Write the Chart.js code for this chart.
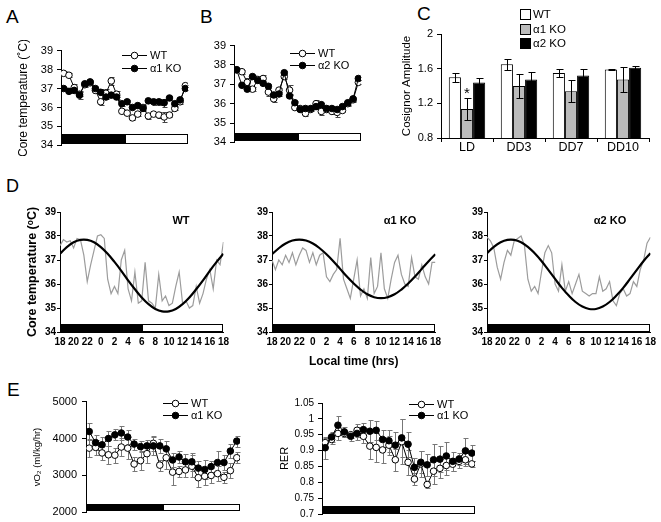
<!DOCTYPE html>
<html>
<head>
<meta charset="utf-8">
<script src="https://cdn.jsdelivr.net/npm/chart.js@4.4.1/dist/chart.umd.min.js"></script>
<style>
  body { margin: 0; background: #fff; width: 661px; height: 522px; position: relative; overflow: hidden;
         font-family: Arial, "Liberation Sans", sans-serif; }
  canvas { position: absolute; }
  .lbl { position: absolute; font-size: 19px; line-height: 19px; color: #000; }
</style>
</head>
<body>
<div class="lbl" style="left:6px;top:7px">A</div>
<div class="lbl" style="left:200px;top:7px">B</div>
<div class="lbl" style="left:417px;top:4px">C</div>
<div class="lbl" style="left:6px;top:177px;font-size:18px">D</div>
<div class="lbl" style="left:7px;top:380px">E</div>

<canvas id="chartA" width="179" height="116" style="left:16px;top:40px"></canvas>
<canvas id="chartB" width="163" height="118" style="left:205px;top:35px"></canvas>
<canvas id="chartC" width="256" height="158" style="left:400px;top:2px"></canvas>
<canvas id="chartD1" width="208" height="166" style="left:25px;top:203px"></canvas>
<canvas id="chartD2" width="208" height="166" style="left:237px;top:203px"></canvas>
<canvas id="chartD3" width="208" height="166" style="left:452px;top:203px"></canvas>
<canvas id="chartE1" width="215" height="134" style="left:32px;top:390px"></canvas>
<canvas id="chartE2" width="204" height="131" style="left:278px;top:393px"></canvas>

<script>
// ---- data ----
const hours = [0, 1, 2, 3, 4, 5, 6, 7, 8, 9, 10, 11, 12, 13, 14, 15, 16, 17, 18, 19, 20, 21, 22, 23];
const darkSpan = [-0.5, 11.5];
const lightSpan = [11.5, 23.5];

// A: core temp, WT vs a1 KO
const tempA_WT = [37.8, 37.7, 37.05, 36.7, 37.2, 37.3, 36.9, 36.3, 36.75, 37.4, 36.7, 35.8, 35.7, 35.45, 35.65, 36.0, 35.55, 35.65, 35.6, 35.5, 35.6, 35.95, 36.3, 37.15];
const tempA_WT_err = [0.1, 0.1, 0.2, 0.1, 0.1, 0.1, 0.15, 0.15, 0.2, 0.2, 0.15, 0.1, 0.1, 0.1, 0.1, 0.15, 0.15, 0.1, 0.15, 0.25, 0.1, 0.1, 0.1, 0.05];
const tempA_KO = [37.0, 36.85, 36.9, 36.65, 37.25, 37.35, 37.0, 36.8, 36.55, 36.65, 36.55, 36.2, 36.3, 36.0, 36.1, 35.95, 36.35, 36.3, 36.3, 36.25, 36.5, 36.2, 36.4, 37.0];
const tempA_KO_err = [0.1, 0.1, 0.1, 0.2, 0.1, 0.1, 0.1, 0.15, 0.1, 0.1, 0.1, 0.1, 0.1, 0.1, 0.1, 0.15, 0.1, 0.15, 0.15, 0.2, 0.1, 0.1, 0.1, 0.1];

// B: core temp, WT vs a2 KO
const tempB_WT = [37.75, 37.65, 37.1, 36.75, 37.25, 37.3, 36.6, 36.25, 36.7, 37.4, 36.7, 35.8, 35.75, 35.5, 35.7, 36.0, 35.6, 35.7, 35.6, 35.55, 35.65, 36.0, 36.2, 37.1];
const tempB_WT_err = [0.1, 0.1, 0.25, 0.1, 0.1, 0.2, 0.2, 0.15, 0.1, 0.15, 0.25, 0.1, 0.1, 0.15, 0.1, 0.2, 0.2, 0.1, 0.15, 0.25, 0.1, 0.1, 0.1, 0.1];
const tempB_KO = [37.75, 36.95, 36.75, 37.4, 37.2, 37.05, 36.9, 36.45, 36.5, 37.6, 36.4, 36.05, 35.7, 35.75, 35.75, 35.85, 35.95, 35.75, 35.75, 35.7, 35.85, 36.05, 36.25, 37.3];
const tempB_KO_err = [0.1, 0.1, 0.1, 0.1, 0.1, 0.1, 0.1, 0.15, 0.1, 0.1, 0.1, 0.1, 0.1, 0.1, 0.1, 0.1, 0.1, 0.1, 0.1, 0.1, 0.1, 0.1, 0.1, 0.1];

// C: cosinor amplitude
const cCats = ['LD', 'DD3', 'DD7', 'DD10'];
const ampWT = [1.50, 1.65, 1.55, 1.59];
const ampWT_err = [0.055, 0.06, 0.045, 0.005];
const ampA1 = [1.135, 1.40, 1.34, 1.475];
const ampA1_err = [0.13, 0.135, 0.13, 0.145];
const ampA2 = [1.44, 1.475, 1.52, 1.61];
const ampA2_err = [0.05, 0.085, 0.08, 0.02];

// D: raw traces (every 0.5 h from 18:00) and cosinor fits (hourly)
const dTimes = [0, 0.5, 1, 1.5, 2, 2.5, 3, 3.5, 4, 4.5, 5, 5.5, 6, 6.5, 7, 7.5, 8, 8.5, 9, 9.5, 10, 10.5, 11, 11.5, 12,
  12.5, 13, 13.5, 14, 14.5, 15, 15.5, 16, 16.5, 17, 17.5, 18, 18.5, 19, 19.5, 20, 20.5, 21, 21.5, 22, 22.5, 23, 23.5, 24];
const rawWT = [37.6, 37.85, 37.75, 37.8, 37.5, 37.9, 37.85, 37.2, 36.1, 36.8, 37.4, 38.0, 38.05, 37.9, 36.2, 35.6, 35.9, 35.6, 37.0, 37.4,
  35.8, 35.3, 36.5, 35.2, 35.3, 36.9, 35.3, 35.2, 35.0, 36.4, 35.3, 35.5, 35.1, 35.2, 35.9, 36.5, 35.2, 35.3, 35.0, 35.1,
  35.9, 35.2, 35.6, 36.2, 36.6, 35.8, 37.0, 36.8, 37.75];
const rawA1 = [37.0, 36.6, 37.0, 36.8, 37.2, 36.9, 37.3, 36.8, 37.2, 37.5, 37.4, 36.9, 37.3, 36.8, 37.2, 37.3, 36.3, 36.1, 36.4, 36.6,
  37.9, 36.2, 35.8, 35.4, 36.2, 37.0, 35.5, 35.8, 35.4, 37.1, 35.6, 35.9, 37.3, 35.8, 35.4, 36.2, 36.9, 37.2, 36.4, 36.0,
  35.9, 37.1, 36.3, 36.2, 36.8, 36.3, 36.0, 36.9, 36.9];
const rawA2 = [37.95, 37.8, 37.5, 36.7, 36.2, 36.9, 37.4, 37.2, 37.8, 37.9, 38.0, 37.6, 36.2, 35.7, 35.9, 35.6, 36.5, 37.3, 37.6, 37.3,
  36.0, 35.7, 36.8, 35.7, 36.1, 35.6, 36.0, 36.4, 35.7, 35.6, 35.5, 35.6, 35.6, 36.3, 35.7, 35.8, 36.1, 35.3, 35.1, 35.6,
  35.8, 35.5, 35.6, 36.1, 35.9, 36.6, 37.0, 37.7, 37.95];
const fitTimes = [0, 1, 2, 3, 4, 5, 6, 7, 8, 9, 10, 11, 12, 13, 14, 15, 16, 17, 18, 19, 20, 21, 22, 23, 24];
const fitWT = [37.26, 37.54, 37.74, 37.84, 37.84, 37.74, 37.54, 37.26, 36.92, 36.55, 36.15, 35.78, 35.44, 35.16, 34.96, 34.86, 34.86, 34.96, 35.16, 35.44, 35.78, 36.15, 36.55, 36.92, 37.26];
const fitA1 = [37.24, 37.49, 37.69, 37.81, 37.85, 37.81, 37.69, 37.49, 37.24, 36.95, 36.63, 36.31, 36.02, 35.77, 35.57, 35.45, 35.41, 35.45, 35.57, 35.77, 36.02, 36.31, 36.63, 36.95, 37.24];
const fitA2 = [37.28, 37.55, 37.74, 37.84, 37.84, 37.74, 37.55, 37.28, 36.96, 36.59, 36.21, 35.84, 35.52, 35.25, 35.06, 34.96, 34.96, 35.06, 35.25, 35.52, 35.84, 36.21, 36.59, 36.96, 37.28];

// E: VO2 and RER
const vo2WT = [3740, 3760, 3610, 3560, 3550, 3770, 3740, 3310, 3400, 3590, 3870, 3280, 3480, 3090, 3110, 3150, 3250, 2940, 2980, 3000, 3050, 2950, 3130, 3480];
const vo2WT_err = [250, 200, 200, 250, 200, 250, 300, 200, 250, 250, 200, 150, 300, 350, 150, 200, 300, 250, 250, 200, 200, 150, 200, 150];
const vo2KO = [4190, 3890, 3830, 4000, 4100, 4150, 4040, 3850, 3780, 3800, 3800, 3800, 3720, 3420, 3500, 3370, 3370, 3200, 3160, 3240, 3350, 3350, 3660, 3930];
const vo2KO_err = [230, 200, 200, 200, 150, 200, 200, 150, 150, 150, 250, 200, 200, 200, 150, 200, 250, 200, 250, 150, 300, 200, 200, 150];
const rerWT = [0.925, 0.935, 0.954, 0.954, 0.95, 0.964, 0.945, 0.914, 0.91, 0.902, 0.917, 0.871, 0.928, 0.863, 0.81, 0.858, 0.793, 0.835, 0.844, 0.853, 0.857, 0.866, 0.871, 0.858];
const rerWT_err = [0.015, 0.015, 0.02, 0.01, 0.01, 0.02, 0.02, 0.04, 0.045, 0.04, 0.03, 0.035, 0.07, 0.04, 0.02, 0.04, 0.01, 0.04, 0.03, 0.03, 0.02, 0.02, 0.02, 0.01];
const rerKO = [0.909, 0.943, 0.98, 0.959, 0.945, 0.954, 0.966, 0.961, 0.964, 0.935, 0.931, 0.917, 0.94, 0.92, 0.847, 0.863, 0.855, 0.871, 0.873, 0.883, 0.866, 0.873, 0.899, 0.892];
const rerKO_err = [0.035, 0.015, 0.03, 0.015, 0.015, 0.02, 0.02, 0.035, 0.03, 0.03, 0.035, 0.04, 0.06, 0.04, 0.03, 0.035, 0.035, 0.05, 0.04, 0.045, 0.03, 0.02, 0.04, 0.025];

// ---- setup ----
const FONT = 'Arial, "Liberation Sans", sans-serif';
Chart.defaults.font.family = FONT;
Chart.defaults.color = '#000';
Chart.defaults.animation = false;
Chart.defaults.responsive = false;
Chart.defaults.devicePixelRatio = 1;
Chart.defaults.plugins.legend.display = false;
Chart.defaults.plugins.tooltip.enabled = false;

const pts = (xs, ys) => xs.map((x, i) => ({ x: x, y: ys[i] }));

// light/dark bar under the traces
const ldBar = {
  id: 'ldBar',
  beforeDatasetsDraw(chart, args, o) {
    if (!o.dark) return;
    const ctx = chart.ctx, xs = chart.scales.x, ys = chart.scales.y;
    const y0 = Math.round(ys.getPixelForValue(o.y[0])) - 0.5, y1 = Math.round(ys.getPixelForValue(o.y[1])) + 0.5;
    ctx.save();
    ctx.strokeStyle = '#000'; ctx.lineWidth = 1;
    [[o.dark, '#000'], [o.light, '#fff']].forEach(([sp, col]) => {
      const x0 = Math.round(xs.getPixelForValue(sp[0])) + 0.5, x1 = Math.round(xs.getPixelForValue(sp[1])) - 0.5;
      ctx.fillStyle = col;
      ctx.fillRect(x0, y1, x1 - x0, y0 - y1);
      ctx.strokeRect(x0, y1, x1 - x0, y0 - y1);
    });
    ctx.restore();
  }
};

// error bars (before datasets for lines, after for bars)
function drawErr(chart, o) {
  const ctx = chart.ctx, ys = chart.scales.y;
  ctx.save();
  ctx.strokeStyle = o.color || '#000'; ctx.lineWidth = 1;
  o.sets.forEach(s => {
    const meta = chart.getDatasetMeta(s.ds);
    meta.data.forEach((el, i) => {
      const raw = chart.data.datasets[s.ds].data[i];
      const v = typeof raw === 'object' ? raw.y : raw, e = s.err[i];
      const x = Math.round(el.x) + 0.5;
      const t = Math.round(ys.getPixelForValue(v + e)) + 0.5, b = Math.round(ys.getPixelForValue(v - e)) + 0.5;
      const c = o.cap || 2;
      ctx.beginPath();
      ctx.moveTo(x, t); ctx.lineTo(x, b);
      ctx.moveTo(x - c, t); ctx.lineTo(x + c + 1, t);
      ctx.moveTo(x - c, b); ctx.lineTo(x + c + 1, b);
      ctx.stroke();
    });
  });
  if (o.star) {
    const el = chart.getDatasetMeta(o.star.ds).data[o.star.i];
    const d = chart.data.datasets[o.star.ds].data[o.star.i];
    const top = ys.getPixelForValue(d + o.sets[o.star.ds].err[o.star.i]);
    ctx.fillStyle = '#000'; ctx.font = '15px ' + FONT; ctx.textAlign = 'center'; ctx.textBaseline = 'alphabetic';
    ctx.fillText('*', el.x, top);
  }
  ctx.restore();
}
const errorBars = {
  id: 'errorBars',
  beforeDatasetsDraw(chart, args, o) { if (o.sets && !o.after) drawErr(chart, o); },
  afterDatasetsDraw(chart, args, o) { if (o.sets && o.after) drawErr(chart, o); }
};

// legend with line+circle or box markers, and free text
const keyBox = {
  id: 'keyBox',
  afterDraw(chart, args, o) {
    const ctx = chart.ctx, a = chart.chartArea;
    ctx.save();
    ctx.strokeStyle = '#000'; ctx.lineWidth = 1;
    if (o.items) {
      ctx.font = (o.size || 11) + 'px ' + FONT;
      ctx.textBaseline = 'middle'; ctx.textAlign = 'left';
      o.items.forEach((it, i) => {
        const x = Math.round(a.left + o.x), y = Math.round(a.top + o.y + i * o.gap) + 0.5;
        if (o.box) {
          ctx.fillStyle = it.fill; ctx.fillRect(x + 0.5, y - 5, 10, 10); ctx.strokeRect(x + 0.5, y - 5, 10, 10);
          ctx.fillStyle = '#000'; ctx.fillText(it.text, x + 13, y);
        } else {
          ctx.beginPath(); ctx.moveTo(x, y); ctx.lineTo(x + 25, y); ctx.stroke();
          ctx.beginPath(); ctx.arc(x + 12.5, y, 3.3, 0, Math.PI * 2);
          ctx.fillStyle = it.fill; ctx.fill(); ctx.stroke();
          ctx.fillStyle = '#000'; ctx.fillText(it.text, x + 28, y);
        }
      });
    }
    if (o.title) {
      ctx.font = 'bold 11px ' + FONT; ctx.fillStyle = '#000';
      ctx.textAlign = 'center'; ctx.textBaseline = 'middle';
      ctx.fillText(o.title.text, a.left + o.title.x, a.top + o.title.y);
    }
    ctx.restore();
  }
};
Chart.register(ldBar, errorBars, keyBox);

function yScale(o) {
  const w = o.bold ? 'bold' : 'normal';
  return {
    min: o.min, max: o.max,
    afterFit: s => { s.width = o.width; },
    border: { color: '#000', width: 1 },
    grid: { drawOnChartArea: false, drawTicks: true, tickLength: o.tick || 4, color: '#000' },
    ticks: { stepSize: o.step, padding: o.pad == null ? 4 : o.pad, color: '#000', autoSkip: false,
             font: { size: o.size || 11, weight: w }, callback: v => String(+v.toFixed(2)) },
    title: o.title ? { display: true, text: o.title, color: '#000', padding: 0, font: { size: o.tsize, weight: w } }
                   : { display: false }
  };
}
const hiddenX = { type: 'linear', min: -0.5, max: 23.5, display: false };
function lineSet(ys, fill) {
  return { data: pts(hours, ys), borderColor: '#000', borderWidth: 1, pointRadius: 3.3, pointBorderWidth: 1,
           pointBackgroundColor: fill, pointBorderColor: '#000', tension: 0 };
}

// ---- A ----
new Chart(document.getElementById('chartA'), {
  type: 'line',
  data: { datasets: [lineSet(tempA_KO, '#000'), lineSet(tempA_WT, '#fff')] },
  options: {
    layout: { padding: { top: 9, bottom: 8, right: 7, left: 0 } },
    scales: { x: hiddenX, y: yScale({ min: 34, max: 39, step: 1, width: 45, title: 'Core temperature (˚C)', tsize: 12 }) },
    plugins: {
      ldBar: { dark: darkSpan, light: lightSpan, y: [34.1, 34.6] },
      errorBars: { color: '#444', sets: [{ ds: 0, err: tempA_KO_err }, { ds: 1, err: tempA_WT_err }] },
      keyBox: { x: 61, y: 4, gap: 13, items: [{ text: 'WT', fill: '#fff' }, { text: 'α1 KO', fill: '#000' }] }
    }
  }
});

// ---- B ----
new Chart(document.getElementById('chartB'), {
  type: 'line',
  data: { datasets: [lineSet(tempB_KO, '#000'), lineSet(tempB_WT, '#fff')] },
  options: {
    layout: { padding: { top: 9, bottom: 8, right: 7, left: 0 } },
    scales: { x: hiddenX, y: yScale({ min: 34, max: 39, step: 1, width: 29 }) },
    plugins: {
      ldBar: { dark: darkSpan, light: lightSpan, y: [34.05, 34.5] },
      errorBars: { color: '#444', sets: [{ ds: 0, err: tempB_KO_err }, { ds: 1, err: tempB_WT_err }] },
      keyBox: { x: 56, y: 7, gap: 12, items: [{ text: 'WT', fill: '#fff' }, { text: 'α2 KO', fill: '#000' }] }
    }
  }
});

// ---- C ----
const barStyle = { borderColor: '#000', borderWidth: 1, categoryPercentage: 0.7, barPercentage: 1.0 };
new Chart(document.getElementById('chartC'), {
  type: 'bar',
  data: {
    labels: cCats,
    datasets: [
      Object.assign({ data: ampWT, backgroundColor: '#fff' }, barStyle),
      Object.assign({ data: ampA1, backgroundColor: '#bbbbbb' }, barStyle),
      Object.assign({ data: ampA2, backgroundColor: '#000' }, barStyle)
    ]
  },
  options: {
    layout: { padding: { top: 32, bottom: 0, right: 7, left: 0 } },
    scales: {
      x: {
        afterFit: s => { s.height = 22; },
        border: { color: '#000' },
        grid: { drawOnChartArea: false, drawTicks: true, tickLength: 4, color: '#000', offset: true },
        ticks: { padding: -2, color: '#000', font: { size: 12.5 } }
      },
      y: yScale({ min: 0.8, max: 2, step: 0.4, width: 41, title: 'Cosignor Amplitude', tsize: 11.5 })
    },
    plugins: {
      errorBars: { after: true, cap: 3, color: '#000', star: { ds: 1, i: 0 },
                   sets: [{ ds: 0, err: ampWT_err }, { ds: 1, err: ampA1_err }, { ds: 2, err: ampA2_err }] },
      keyBox: { box: true, size: 11.5, x: 79, y: -20, gap: 14.5,
                items: [{ text: 'WT', fill: '#fff' }, { text: 'α1 KO', fill: '#bbbbbb' }, { text: 'α2 KO', fill: '#000' }] }
    }
  }
});

// ---- D ----
function dChart(id, raw, fit, name, titleX, yTitle, xTitle) {
  new Chart(document.getElementById(id), {
    type: 'line',
    data: {
      datasets: [
        { data: pts(fitTimes, fit), borderColor: '#000', borderWidth: 2.2, pointRadius: 0, tension: 0.4 },
        { data: pts(dTimes, raw), borderColor: '#9c9c9c', borderWidth: 1.2, pointRadius: 0, tension: 0 }
      ]
    },
    options: {
      layout: { padding: { top: 9, bottom: 0, right: 7, left: 0 } },
      scales: {
        x: {
          type: 'linear', min: 0, max: 24,
          afterFit: s => { s.height = 37; },
          border: { color: '#000' },
          grid: { drawOnChartArea: false, drawTicks: false },
          ticks: { stepSize: 2, padding: 4, autoSkip: false, maxRotation: 0, color: '#000',
                   font: { size: 10, weight: 'bold' }, callback: v => String((v + 18) % 24) },
          title: xTitle ? { display: true, text: xTitle, padding: 0, color: '#000', font: { size: 12, weight: 'bold' } }
                        : { display: false }
        },
        y: yScale({ min: 34, max: 39, step: 1, width: 35, bold: true, size: 10, tick: 3, pad: 1,
                    title: yTitle, tsize: 12.5 })
      },
      plugins: {
        ldBar: { dark: [0, 12], light: [12, 24], y: [34, 34.35] },
        keyBox: { title: { text: name, x: titleX, y: 9 } }
      }
    }
  });
}
dChart('chartD1', rawWT, fitWT, 'WT', 121, 'Core temperature (ᵒC)', null);
dChart('chartD2', rawA1, fitA1, 'α1 KO', 128, null, 'Local time (hrs)');
dChart('chartD3', rawA2, fitA2, 'α2 KO', 123, null, null);

// ---- E ----
new Chart(document.getElementById('chartE1'), {
  type: 'line',
  data: { datasets: [lineSet(vo2KO, '#000'), lineSet(vo2WT, '#fff')] },
  options: {
    layout: { padding: { top: 9, bottom: 9, right: 7, left: 0 } },
    scales: { x: hiddenX, y: yScale({ min: 2000, max: 5000, step: 1000, width: 54, pad: 5, title: 'vO₂ (ml/kg/hr)', tsize: 9.5 }) },
    plugins: {
      ldBar: { dark: darkSpan, light: lightSpan, y: [2030, 2240] },
      errorBars: { color: '#777', sets: [{ ds: 0, err: vo2KO_err }, { ds: 1, err: vo2WT_err }] },
      keyBox: { x: 77, y: 1, gap: 12, items: [{ text: 'WT', fill: '#fff' }, { text: 'α1 KO', fill: '#000' }] }
    }
  }
});
new Chart(document.getElementById('chartE2'), {
  type: 'line',
  data: { datasets: [lineSet(rerKO, '#000'), lineSet(rerWT, '#fff')] },
  options: {
    layout: { padding: { top: 9, bottom: 9, right: 7, left: 0 } },
    scales: { x: hiddenX, y: yScale({ min: 0.7, max: 1.05, step: 0.05, width: 44, size: 10, title: 'RER', tsize: 11 }) },
    plugins: {
      ldBar: { dark: darkSpan, light: lightSpan, y: [0.7, 0.726] },
      errorBars: { color: '#777', sets: [{ ds: 0, err: rerKO_err }, { ds: 1, err: rerWT_err }] },
      keyBox: { x: 87, y: 1, gap: 11, items: [{ text: 'WT', fill: '#fff' }, { text: 'α1 KO', fill: '#000' }] }
    }
  }
});
</script>
</body>
</html>
